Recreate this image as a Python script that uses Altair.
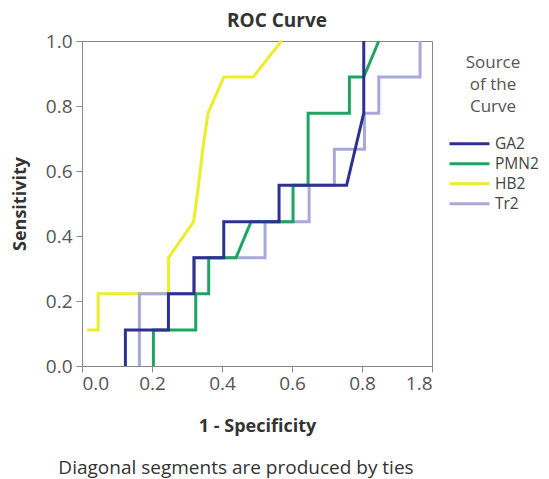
import altair as alt
import pandas as pd

series = ["GA2", "PMN2", "HB2", "Tr2"]
colors = ["#2e3192", "#1fa463", "#eded2a", "#a8a8da"]
draw_order = ["HB2", "Tr2", "PMN2", "GA2"]

ga2_x = [0.124, 0.124, 0.247, 0.247, 0.320, 0.320, 0.405, 0.405, 0.563, 0.563, 0.756, 0.805, 0.805]
ga2_y = [0.0, 0.111, 0.111, 0.222, 0.222, 0.333, 0.333, 0.444, 0.444, 0.556, 0.556, 0.778, 1.0]

pmn2_x = [0.204, 0.204, 0.325, 0.325, 0.362, 0.362, 0.440, 0.483, 0.603, 0.603, 0.646, 0.646, 0.764, 0.764, 0.805, 0.848]
pmn2_y = [0.0, 0.111, 0.111, 0.222, 0.222, 0.333, 0.333, 0.444, 0.444, 0.556, 0.556, 0.778, 0.778, 0.889, 0.889, 1.0]

hb2_x = [0.015, 0.046, 0.046, 0.247, 0.247, 0.319, 0.333, 0.345, 0.360, 0.405, 0.489, 0.570]
hb2_y = [0.111, 0.111, 0.222, 0.222, 0.333, 0.444, 0.556, 0.667, 0.778, 0.889, 0.889, 1.0]

tr2_x = [0.164, 0.164, 0.320, 0.320, 0.523, 0.523, 0.649, 0.649, 0.721, 0.721, 0.807, 0.807, 0.848, 0.848, 0.966, 0.966]
tr2_y = [0.0, 0.222, 0.222, 0.333, 0.333, 0.444, 0.444, 0.556, 0.556, 0.667, 0.667, 0.778, 0.778, 0.889, 0.889, 1.0]

x_ticks = [0.0, 0.2, 0.4, 0.6, 0.8, 1.0]
y_ticks = [0.0, 0.2, 0.4, 0.6, 0.8, 1.0]

title_text = "ROC Curve"
x_title = "1 - Specificity"
y_title = "Sensitivity"
legend_title = ["Source", "of the", "Curve"]
footer = "Diagonal segments are produced by ties"

FONT = "Open Sans"

data = {"GA2": (ga2_x, ga2_y), "PMN2": (pmn2_x, pmn2_y), "HB2": (hb2_x, hb2_y), "Tr2": (tr2_x, tr2_y)}
rows = []
for name, (xs, ys) in data.items():
    for i, (xv, yv) in enumerate(zip(xs, ys)):
        rows.append({"series": name, "i": i, "x": xv, "y": yv})
df = pd.DataFrame(rows)

color = alt.Color(
    "series:N",
    scale=alt.Scale(domain=series, range=colors),
    legend=alt.Legend(
        title=legend_title,
        orient="none",
        legendX=366,
        legendY=14,
        titleFontSize=17,
        titleFontWeight="normal",
        titleColor="#555555",
        titleFont=FONT,
        titleAlign="center",
        titleAnchor="middle",
        titleLineHeight=22,
        titlePadding=18,
        labelFontSize=15.5,
        labelColor="#444444",
        labelFont=FONT,
        labelOffset=4,
        symbolType="stroke",
        symbolSize=1600,
        symbolStrokeWidth=3,
        clipHeight=19.5,
        rowPadding=0,
    ),
)

x_enc = alt.X(
    "x:Q",
    scale=alt.Scale(domain=[0, 1], nice=False),
    axis=alt.Axis(
        values=x_ticks,
        labelExpr="datum.value == 1 ? '1.8' : format(datum.value, '.1f')",
        title=x_title,
    ),
)
y_enc = alt.Y(
    "y:Q",
    scale=alt.Scale(domain=[0, 1], nice=False),
    axis=alt.Axis(values=y_ticks, format=".1f", title=y_title),
)

layers = []
for s in draw_order:
    layers.append(
        alt.Chart(df)
        .transform_filter(alt.datum.series == s)
        .mark_line(strokeWidth=3)
        .encode(x=x_enc, y=y_enc, order="i:Q", color=color)
    )

head = (
    alt.Chart(pd.DataFrame({"t": [title_text]}))
    .mark_text(font=FONT, fontSize=19, fontWeight="bold", color="#333333", align="center", baseline="middle")
    .encode(x=alt.value(195), y=alt.value(-20), text="t:N")
)

foot = (
    alt.Chart(pd.DataFrame({"t": [footer]}))
    .mark_text(font=FONT, fontSize=19, color="#333333", align="center", baseline="middle")
    .encode(x=alt.value(154), y=alt.value(427), text="t:N")
)

chart = (
    alt.layer(*layers, head, foot)
    .properties(
        width=350,
        height=325,
        autosize=alt.AutoSizeParams(type="none"),
        padding={"left": 74, "top": 33, "right": 109, "bottom": 121},
    )
    .configure_view(stroke="#888888", strokeWidth=1)
    .configure_axis(
        grid=False,
        labelFont=FONT,
        labelFontSize=19,
        labelColor="#555555",
        titleFont=FONT,
        titleFontSize=18,
        titleFontWeight="bold",
        titleColor="#333333",
        domainColor="#888888",
        tickColor="#888888",
        tickSize=6,
    )
    .configure_axisX(labelPadding=2, titlePadding=24)
    .configure_axisY(labelPadding=4, titlePadding=16)
)

chart.save("out.html", embed_options={"renderer": "svg", "actions": False})
